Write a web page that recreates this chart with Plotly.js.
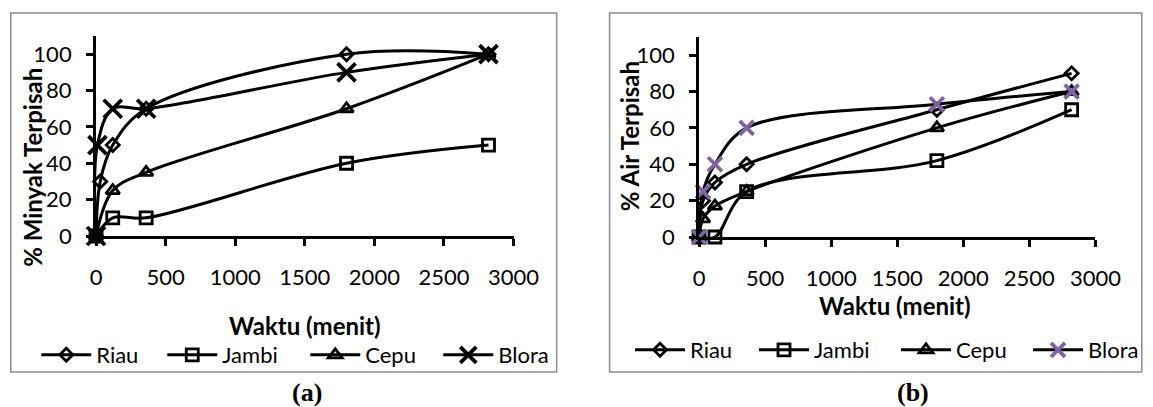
<!DOCTYPE html>
<html>
<head>
<meta charset="utf-8">
<script src="https://cdn.plot.ly/plotly-3.0.1.min.js"></script>
<style>
  html, body { margin: 0; padding: 0; background: #ffffff; }
  #chart { width: 1153px; height: 407px; }
</style>
</head>
<body>
<div id="chart"></div>
<script>
// ---------- Data ----------
// (a) % Minyak Terpisah
const seriesNames = ['Riau', 'Jambi', 'Cepu', 'Blora'];

const timeA_riau  = [0, 30, 120, 360, 1800, 2820];
const minyak_riau = [0, 30, 50, 70, 100, 100];
const timeA_jambi  = [0, 120, 360, 1800, 2820];
const minyak_jambi = [0, 10, 10, 40, 50];
const timeA_cepu  = [0, 120, 360, 1800, 2820];
const minyak_cepu = [0, 25, 35, 70, 100];
const timeA_blora  = [0, 10, 120, 360, 1800, 2820];
const minyak_blora = [0, 50, 70, 70, 90, 100];

// (b) % Air Terpisah
const timeB_riau = [0, 30, 120, 360, 1800, 2820];
const air_riau   = [0, 20, 30, 40, 70, 90];
const timeB_jambi = [0, 120, 360, 1800, 2820];
const air_jambi   = [0, 0, 25, 42, 70];
const timeB_cepu = [0, 30, 120, 360, 1800, 2820];
const air_cepu   = [0, 10, 17, 25, 60, 80];
const timeB_blora = [0, 30, 120, 360, 1800, 2820];
const air_blora   = [0, 25, 40, 60, 73, 80];

const yTickVals = [0, 20, 40, 60, 80, 100];
const xTickVals = [0, 500, 1000, 1500, 2000, 2500, 3000];

const titleYA = '% Minyak Terpisah';
const titleYB = '% Air Terpisah';
const titleX = 'Waktu (menit)';
const capA = '(a)';
const capB = '(b)';

// ---------- Styling ----------
const W = 1153, H = 407;
const px = v => v / W;
const py = v => 1 - v / H;
const FONT = 'Lato, "Open Sans", sans-serif';
const BLACK = '#000000';
const PURPLE = '#8064A2';

function mk(name, x, y, xa, ya, legend, sym, size, color, mlw, legW) {
  return {
    type: 'scatter', mode: 'lines+markers', name: name,
    x: x, y: y, xaxis: xa, yaxis: ya, legend: legend,
    legendwidth: legW,
    line: {shape: 'spline', smoothing: 1, color: BLACK, width: 3},
    marker: {symbol: sym, size: size, color: color,
             line: {color: color, width: mlw}},
    cliponaxis: false, hoverinfo: 'x+y+name'
  };
}

const traces = [
  mk(seriesNames[0], timeA_riau,  minyak_riau,  'x',  'y',  'legend',  'diamond-open',     10, BLACK, 2.8, 61),
  mk(seriesNames[1], timeA_jambi, minyak_jambi, 'x',  'y',  'legend',  'square-open',      12, BLACK, 2.8, 78),
  mk(seriesNames[2], timeA_cepu,  minyak_cepu,  'x',  'y',  'legend',  'triangle-up-open', 12, BLACK, 2.8, 68),
  mk(seriesNames[3], timeA_blora, minyak_blora, 'x',  'y',  'legend',  'x-thin-open',      18, BLACK, 3.8, 60),
  mk(seriesNames[0], timeB_riau,  air_riau,     'x2', 'y2', 'legend2', 'diamond-open',     10, BLACK, 2.8, 59),
  mk(seriesNames[1], timeB_jambi, air_jambi,    'x2', 'y2', 'legend2', 'square-open',      12, BLACK, 2.8, 77),
  mk(seriesNames[2], timeB_cepu,  air_cepu,     'x2', 'y2', 'legend2', 'triangle-up-open', 12, BLACK, 2.8, 67),
  mk(seriesNames[3], timeB_blora, air_blora,    'x2', 'y2', 'legend2', 'x-thin-open',      14, PURPLE, 3.8, 60)
];

const tickFont = {family: FONT, size: 22, color: BLACK};

function xAxis(domain, anchor) {
  return {
    domain: domain, anchor: anchor, range: [0, 3000],
    tickvals: xTickVals, ticktext: xTickVals.map(String),
    showgrid: false, zeroline: false,
    showline: true, linecolor: BLACK, linewidth: 3,
    ticks: 'outside', ticklen: 7, tickwidth: 2.5, tickcolor: BLACK,
    tickfont: tickFont, ticklabelstandoff: 13, fixedrange: true
  };
}
function yAxis(domain, anchor) {
  return {
    domain: domain, anchor: anchor, range: [0, 110],
    tickvals: yTickVals, ticktext: yTickVals.map(String),
    showgrid: false, zeroline: false,
    showline: true, linecolor: BLACK, linewidth: 3,
    ticks: 'outside', ticklen: 7, tickwidth: 2.5, tickcolor: BLACK,
    tickfont: tickFont, ticklabelstandoff: 10, fixedrange: true
  };
}

const boxLine = {color: '#8c8c8c', width: 1.5};
const legendBase = {
  orientation: 'h', xanchor: 'left', yanchor: 'middle', itemwidth: 50,
  font: {family: FONT, size: 22, color: BLACK}, bgcolor: 'rgba(0,0,0,0)',
  borderwidth: 0, itemclick: false, itemdoubleclick: false
};

const layout = {
  width: W, height: H, autosize: false,
  margin: {l: 0, r: 0, t: 0, b: 0},
  paper_bgcolor: '#ffffff', plot_bgcolor: 'rgba(0,0,0,0)',
  font: {family: FONT, color: BLACK},
  showlegend: true,
  xaxis:  xAxis([px(98), px(524)], 'y'),
  yaxis:  yAxis([py(236), py(36)], 'x'),
  xaxis2: xAxis([px(713.3), px(1117.7)], 'y2'),
  yaxis2: yAxis([py(237), py(37)], 'x2'),
  legend:  Object.assign({}, legendBase, {x: px(37), y: py(355)}),
  legend2: Object.assign({}, legendBase, {x: px(643), y: py(350)}),
  shapes: [
    {type: 'rect', xref: 'paper', yref: 'paper', x0: px(11), x1: px(568), y0: py(372), y1: py(13), line: boxLine, layer: 'below'},
    {type: 'rect', xref: 'paper', yref: 'paper', x0: px(622), x1: px(1165), y0: py(372), y1: py(13), line: boxLine, layer: 'below'}
  ],
  annotations: [
    {text: '<b>' + titleYA + '</b>', xref: 'paper', yref: 'paper', x: px(32.5), y: py(167),
     textangle: -90, showarrow: false, xanchor: 'center', yanchor: 'middle',
     font: {family: FONT, size: 24, color: BLACK}},
    {text: '<b>' + titleYB + '</b>', xref: 'paper', yref: 'paper', x: px(642), y: py(136),
     textangle: -90, showarrow: false, xanchor: 'center', yanchor: 'middle',
     font: {family: FONT, size: 24, color: BLACK}},
    {text: '<b>' + titleX + '</b>', xref: 'paper', yref: 'paper', x: px(311), y: py(325),
     showarrow: false, xanchor: 'center', yanchor: 'middle',
     font: {family: FONT, size: 24, color: BLACK}},
    {text: '<b>' + titleX + '</b>', xref: 'paper', yref: 'paper', x: px(913), y: py(305),
     showarrow: false, xanchor: 'center', yanchor: 'middle',
     font: {family: FONT, size: 24, color: BLACK}},
    {text: '<b>' + capA + '</b>', xref: 'paper', yref: 'paper', x: px(313), y: py(392),
     showarrow: false, xanchor: 'center', yanchor: 'middle',
     font: {family: '"Liberation Serif", "Times New Roman", serif', size: 26, color: BLACK}},
    {text: '<b>' + capB + '</b>', xref: 'paper', yref: 'paper', x: px(932), y: py(392),
     showarrow: false, xanchor: 'center', yanchor: 'middle',
     font: {family: '"Liberation Serif", "Times New Roman", serif', size: 26, color: BLACK}}
  ]
};

Plotly.newPlot('chart', traces, layout, {displayModeBar: false, responsive: false});
</script>
</body>
</html>
